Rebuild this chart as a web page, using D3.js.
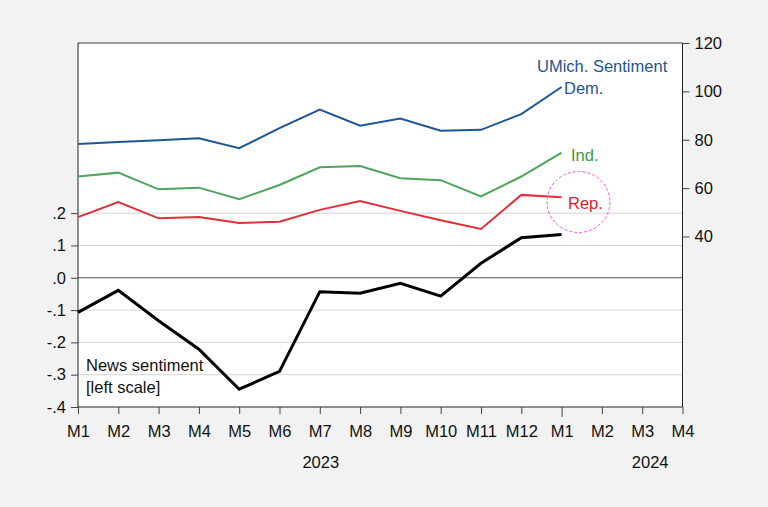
<!DOCTYPE html>
<html><head><meta charset="utf-8">
<script src="https://cdn.jsdelivr.net/npm/d3@7"></script>
<style>
html,body{margin:0;padding:0;background:#f2f2f2;}
svg{display:block;font-family:Arial,"Liberation Sans",sans-serif;}
</style></head>
<body>
<svg id="c" width="768" height="507"></svg>
<script>
// ---- data ----
const months = ["M1","M2","M3","M4","M5","M6","M7","M8","M9","M10","M11","M12","M1","M2","M3","M4"];
const years = ["2023","2024"];
const dem  = [78.2, 79.1, 79.8, 80.6, 76.5, 84.8, 92.5, 85.8, 88.8, 83.7, 84.1, 90.6, 101.8];
const ind  = [64.8, 66.4, 59.5, 60.2, 55.4, 61.3, 68.6, 69.1, 64.1, 63.3, 56.6, 64.8, 74.7];
const rep  = [48.0, 54.2, 47.5, 48.1, 45.6, 46.1, 51.0, 54.7, 50.6, 46.7, 43.1, 57.2, 56.2];
const news = [-0.107, -0.039, -0.133, -0.221, -0.345, -0.290, -0.043, -0.048, -0.017, -0.057, 0.045, 0.124, 0.134];
const leftTicks = [0.2, 0.1, 0.0, -0.1, -0.2, -0.3, -0.4];
const rightTicks = [40, 60, 80, 100, 120];

const FS = 16.5;
const svg = d3.select("#c");
const L = 78, R = 682.5, T = 43, B = 407;
const x = d3.scalePoint().domain(d3.range(months.length)).range([L, R]);
const yL = d3.scaleLinear().domain([-0.4, 0.7267]).range([B, T]);
const yR = d3.scaleLinear().domain([-30.5, 120]).range([B, T]);

// plot area
svg.append("rect").attr("x", L).attr("y", T).attr("width", R - L).attr("height", B - T).attr("fill", "#fff");

// gridlines
svg.append("g").selectAll("line").data(leftTicks.filter(d => d !== 0 && d !== -0.4)).join("line")
  .attr("x1", L).attr("x2", R).attr("y1", d => yL(d)).attr("y2", d => yL(d))
  .attr("stroke", "#d4d4d4").attr("stroke-width", 1);
svg.append("line").attr("x1", L).attr("x2", R).attr("y1", yL(0)).attr("y2", yL(0))
  .attr("stroke", "#555").attr("stroke-width", 1);

// frame top
svg.append("line").attr("x1", L).attr("x2", R).attr("y1", T).attr("y2", T).attr("stroke", "#777").attr("stroke-width", 1.5);

// left axis
const fmtL = d => d === 0 ? ".0" : (d < 0 ? "-" : "") + "." + Math.round(Math.abs(d) * 10);
const gL = svg.append("g").attr("transform", `translate(${L},0)`)
  .call(d3.axisLeft(yL).tickValues(leftTicks).tickFormat(fmtL).tickSize(7).tickSizeOuter(0).tickPadding(5));
gL.select(".domain").attr("d", `M0,${T}V${B}`).attr("stroke", "#222");
gL.selectAll("text").attr("font-size", FS).attr("fill", "#111").attr("font-family", "Arial, 'Liberation Sans', sans-serif");
gL.selectAll(".tick line").attr("stroke", "#444");

// right axis
const gR = svg.append("g").attr("transform", `translate(${R},0)`)
  .call(d3.axisRight(yR).tickValues(rightTicks).tickSize(7).tickSizeOuter(0).tickPadding(5));
gR.select(".domain").attr("d", `M0,${T}V${B}`).attr("stroke", "#222");
gR.selectAll("text").attr("font-size", FS).attr("fill", "#111").attr("font-family", "Arial, 'Liberation Sans', sans-serif");
gR.selectAll(".tick line").attr("stroke", "#444");

// bottom axis
const gB = svg.append("g").attr("transform", `translate(0,${B})`)
  .call(d3.axisBottom(x).tickFormat(i => months[i]).tickSize(7).tickSizeOuter(0).tickPadding(11));
gB.select(".domain").attr("d", `M${L},0H${R}`).attr("stroke", "#222");
gB.selectAll(".tick line").attr("stroke", "#444").attr("y2", i => i === 12 ? 10 : 7);
gB.selectAll("text").attr("font-size", FS).attr("fill", "#111").attr("font-family", "Arial, 'Liberation Sans', sans-serif");

// year labels
svg.append("text").attr("x", x(6) + 1).attr("y", 468).attr("text-anchor", "middle")
  .attr("font-size", FS).attr("fill", "#111").text(years[0]);
svg.append("text").attr("x", x(14) + 8).attr("y", 468).attr("text-anchor", "middle")
  .attr("font-size", FS).attr("fill", "#111").text(years[1]);

// lines
const lineR = d3.line().x((d, i) => x(i)).y(d => yR(d));
const lineL = d3.line().x((d, i) => x(i)).y(d => yL(d));
svg.append("path").datum(dem).attr("d", lineR).attr("fill", "none").attr("stroke", "#1f5596").attr("stroke-width", 2);
svg.append("path").datum(ind).attr("d", lineR).attr("fill", "none").attr("stroke", "#4ea45c").attr("stroke-width", 2);
svg.append("path").datum(rep).attr("d", lineR).attr("fill", "none").attr("stroke", "#df2f3a").attr("stroke-width", 2);
svg.append("path").datum(news).attr("d", lineL).attr("fill", "none").attr("stroke", "#000").attr("stroke-width", 3).attr("stroke-linejoin", "miter");

// annotations
const ann = (tx, ty, t, c) => svg.append("text").attr("x", tx).attr("y", ty).attr("font-size", FS).attr("fill", c).text(t);
ann(537, 72, "UMich. Sentiment", "#1f5596");
ann(564, 94, "Dem.", "#1f5596");
ann(571, 161, "Ind.", "#3e9a3e");
ann(568, 209, "Rep.", "#e01b24");
ann(86, 371, "News sentiment", "#111");
ann(86, 393, "[left scale]", "#111");

svg.append("ellipse").attr("cx", 578.5).attr("cy", 202).attr("rx", 31.5).attr("ry", 30.5)
  .attr("fill", "none").attr("stroke", "#f050f0").attr("stroke-width", 1).attr("stroke-dasharray", "3,2");
</script>
</body></html>
